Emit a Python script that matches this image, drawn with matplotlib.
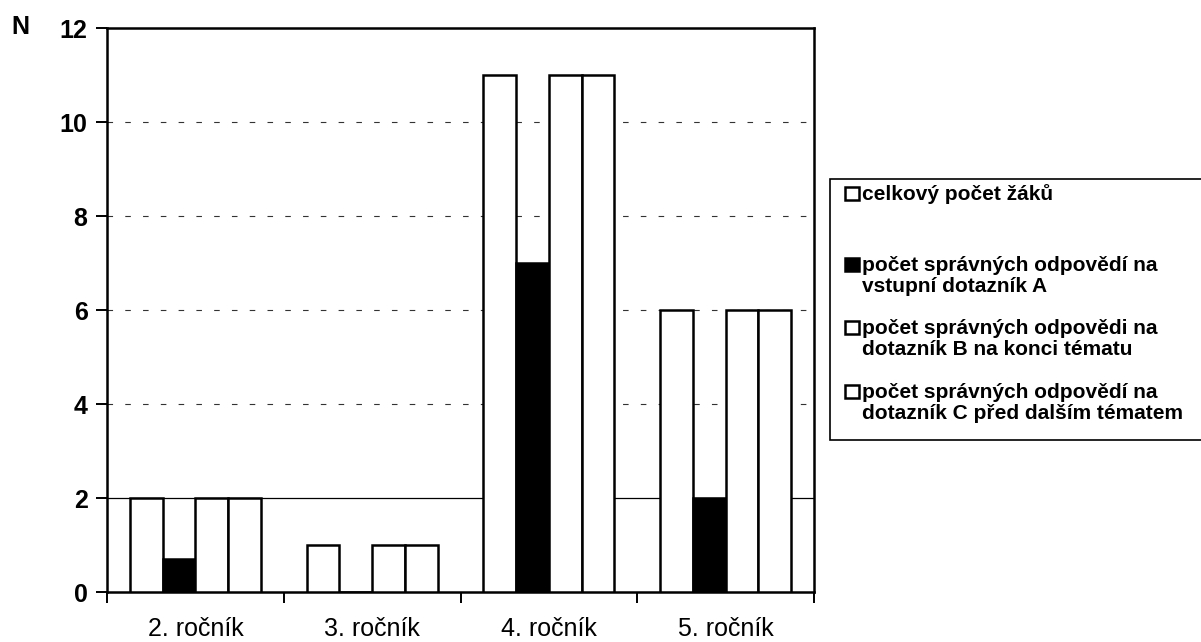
import matplotlib
matplotlib.use("Agg")
import matplotlib.pyplot as plt
from matplotlib.patches import Rectangle
import numpy as np

# --- data ---------------------------------------------------------------
categories = ["2. ročník", "3. ročník", "4. ročník", "5. ročník"]
celkovy_pocet = [2, 1, 11, 6]
dotaznik_a = [0.7, 0, 7, 2]
dotaznik_b = [2, 1, 11, 6]
dotaznik_c = [2, 1, 11, 6]
series_labels = [
    "celkový počet žáků",
    "počet správných odpovědí na\nvstupní dotazník A",
    "počet správných odpovědi na\ndotazník B na konci tématu",
    "počet správných odpovědí na\ndotazník C před dalším tématem",
]
yticks = [0, 2, 4, 6, 8, 10, 12]

# --- styling -------------------------------------------------------------
series = [celkovy_pocet, dotaznik_a, dotaznik_b, dotaznik_c]
fills = ["white", "black", "white", "white"]
FONT = "Liberation Sans"

W, H = 1201, 642
fig = plt.figure(figsize=(W / 100, H / 100), dpi=100)
fig.patch.set_facecolor("white")


def fx(px):
    return px / W


def fy(py):
    return 1 - py / H


ax = fig.add_axes([fx(107), fy(592), fx(814) - fx(107), fy(28) - fy(592)])

x = np.arange(len(categories))
bar_w = 0.185
for i, (vals, fc) in enumerate(zip(series, fills)):
    ax.bar(x + (i - 1.5) * bar_w, vals, bar_w, color=fc, edgecolor="black",
           linewidth=1.8, zorder=3)

ax.set_xlim(-0.5, len(categories) - 0.5)
ax.set_ylim(yticks[0], yticks[-1])

# horizontal reference lines
for yv in yticks[1:-1]:
    if yv == 2:
        ax.axhline(yv, color="black", lw=0.9, zorder=1)
    else:
        ax.axhline(yv, color="#333333", lw=0.8, ls=(0, (5, 11)), zorder=1)

for sp in ax.spines.values():
    sp.set_linewidth(1.8)
    sp.set_color("black")

ax.set_yticks(yticks)
ax.set_yticklabels([str(v) for v in yticks], fontsize=18, fontweight="bold",
                   family=FONT)
ax.tick_params(axis="y", direction="out", length=8, width=1.4, pad=6)

ax.set_xticks(x)
ax.set_xticklabels(categories, fontsize=18, family=FONT)
ax.set_xticks(np.arange(len(categories) + 1) - 0.5, minor=True)
ax.tick_params(axis="x", which="major", length=0, pad=18)
ax.tick_params(axis="x", which="minor", direction="out", length=8, width=1.4)

fig.text(fx(20), fy(27), "N", fontsize=18, fontweight="bold", family=FONT,
         ha="center", va="center")

# --- legend --------------------------------------------------------------
fig.add_artist(Rectangle((fx(830), fy(440)), fx(1215) - fx(830),
                         fy(179) - fy(440), transform=fig.transFigure,
                         facecolor="white", edgecolor="black", lw=1.2,
                         clip_on=False))
entry_y = [194, 265, 328, 392]
line_pitch = 21
for label, fc, yc in zip(series_labels, fills, entry_y):
    fig.add_artist(Rectangle((fx(845), fy(yc + 6)), fx(859) - fx(845),
                             fy(yc - 7) - fy(yc + 6),
                             transform=fig.transFigure, facecolor=fc,
                             edgecolor="black", lw=1.8))
    for k, line in enumerate(label.split("\n")):
        fig.text(fx(862), fy(yc + 6 + k * line_pitch), line, fontsize=15,
                 fontweight="bold", family=FONT, ha="left", va="baseline")

fig.savefig("out.png", dpi=100)
